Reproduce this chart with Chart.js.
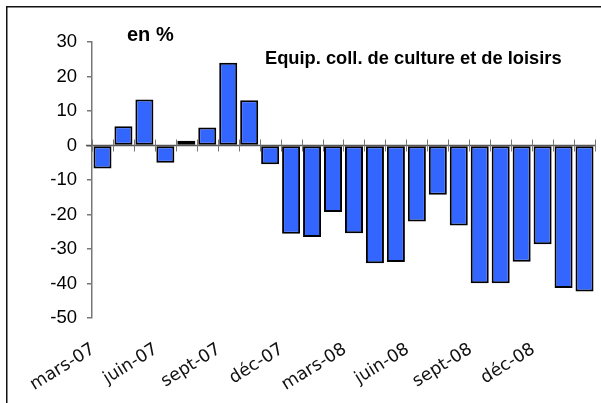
<!DOCTYPE html>
<html>
<head>
<meta charset="utf-8">
<script src="https://cdn.jsdelivr.net/npm/chart.js@4.4.0/dist/chart.umd.min.js"></script>
<style>
html,body{margin:0;padding:0;background:#fff;}
#wrap{position:relative;width:601px;height:403px;}
</style>
</head>
<body>
<div id="wrap"><canvas id="c" width="601" height="403"></canvas></div>
<script>
const categories = ['mars-07','avr-07','mai-07','juin-07','juil-07','août-07','sept-07','oct-07','nov-07','déc-07','janv-08','févr-08','mars-08','avr-08','mai-08','juin-08','juil-08','août-08','sept-08','oct-08','nov-08','déc-08','janv-09','févr-09'];
const values = [-6.7, 5.6, 13.3, -5.0, 1.4, 5.2, 24.0, 13.1, -5.4, -25.6, -26.5, -19.3, -25.4, -34.1, -33.8, -22.0, -14.3, -23.2, -39.9, -39.9, -33.7, -28.6, -41.3, -42.3];
const yTicks = [30, 20, 10, 0, -10, -20, -30, -40, -50];
const unitLabel = 'en %';
const seriesTitle = 'Equip. coll. de culture et de loisirs';

const decor = {
  id: 'decor',
  beforeDatasetsDraw(chart) {
    const ctx = chart.ctx;
    const x = chart.scales.x, y = chart.scales.y;
    const y0 = y.getPixelForValue(0);
    const step = x.getPixelForValue(1) - x.getPixelForValue(0);
    ctx.save();
    ctx.strokeStyle = '#555';
    ctx.lineWidth = 1.5;
    ctx.beginPath();
    ctx.moveTo(chart.chartArea.left - 6, y0);
    ctx.lineTo(chart.chartArea.right, y0);
    ctx.stroke();
    ctx.strokeStyle = '#777';
    ctx.lineWidth = 1;
    const n = categories.length;
    for (let i = 0; i <= n; i++) {
      const px = x.getPixelForValue(0) + (i - 0.5) * step;
      const xx = Math.round(px) + 0.5;
      ctx.beginPath();
      ctx.moveTo(xx, y0 - 6);
      ctx.lineTo(xx, y0 + 6);
      ctx.stroke();
    }
    ctx.restore();
  },
  afterDraw(chart) {
    const ctx = chart.ctx;
    const x = chart.scales.x;
    ctx.save();
    ctx.fillStyle = '#111';
    ctx.fillRect(6, 6, 595, 1.5);
    ctx.fillRect(6, 6, 1.5, 397);
    ctx.fillStyle = '#000';
    ctx.textBaseline = 'alphabetic';
    ctx.textAlign = 'left';
    ctx.font = 'bold 20px "Liberation Sans", Arial, sans-serif';
    ctx.fillText(unitLabel, 127, 41);
    ctx.font = 'bold 18.3px "Liberation Sans", Arial, sans-serif';
    ctx.fillText(seriesTitle, 265, 64);
    ctx.font = '17.5px "DejaVu Sans", Verdana, sans-serif';
    ctx.fillStyle = '#111';
    ctx.textAlign = 'right';
    ctx.textBaseline = 'middle';
    for (let i = 0; i < categories.length; i += 3) {
      const px = x.getPixelForValue(i);
      ctx.save();
      ctx.translate(px - 9, 348);
      ctx.rotate(-32 * Math.PI / 180);
      ctx.fillText(categories[i], 0, 0);
      ctx.restore();
    }
    ctx.restore();
  }
};

new Chart(document.getElementById('c'), {
  type: 'bar',
  data: {
    labels: categories,
    datasets: [{
      data: values,
      backgroundColor: '#3366FF',
      borderColor: '#000',
      borderWidth: 2,
      borderSkipped: false,
      barPercentage: 0.86,
      categoryPercentage: 1.0
    }]
  },
  options: {
    responsive: false,
    animation: false,
    devicePixelRatio: 1,
    layout: { padding: { top: 42, right: 6, bottom: 85, left: 0 } },
    plugins: { legend: { display: false }, tooltip: { enabled: false }, title: { display: false } },
    scales: {
      x: { display: false, offset: true },
      y: {
        min: -50, max: 30,
        afterFit(s) { s.width = 92; },
        afterBuildTicks(s) { s.ticks = yTicks.map(v => ({ value: v })); },
        ticks: {
          color: '#000',
          font: { family: '"Liberation Sans", Arial, sans-serif', size: 18.5 },
          padding: 10
        },
        grid: { drawOnChartArea: false, drawTicks: true, tickLength: 5, color: '#777', lineWidth: 1.5 },
        border: { display: true, color: '#777', width: 1.5 }
      }
    }
  },
  plugins: [decor]
});
</script>
</body>
</html>
